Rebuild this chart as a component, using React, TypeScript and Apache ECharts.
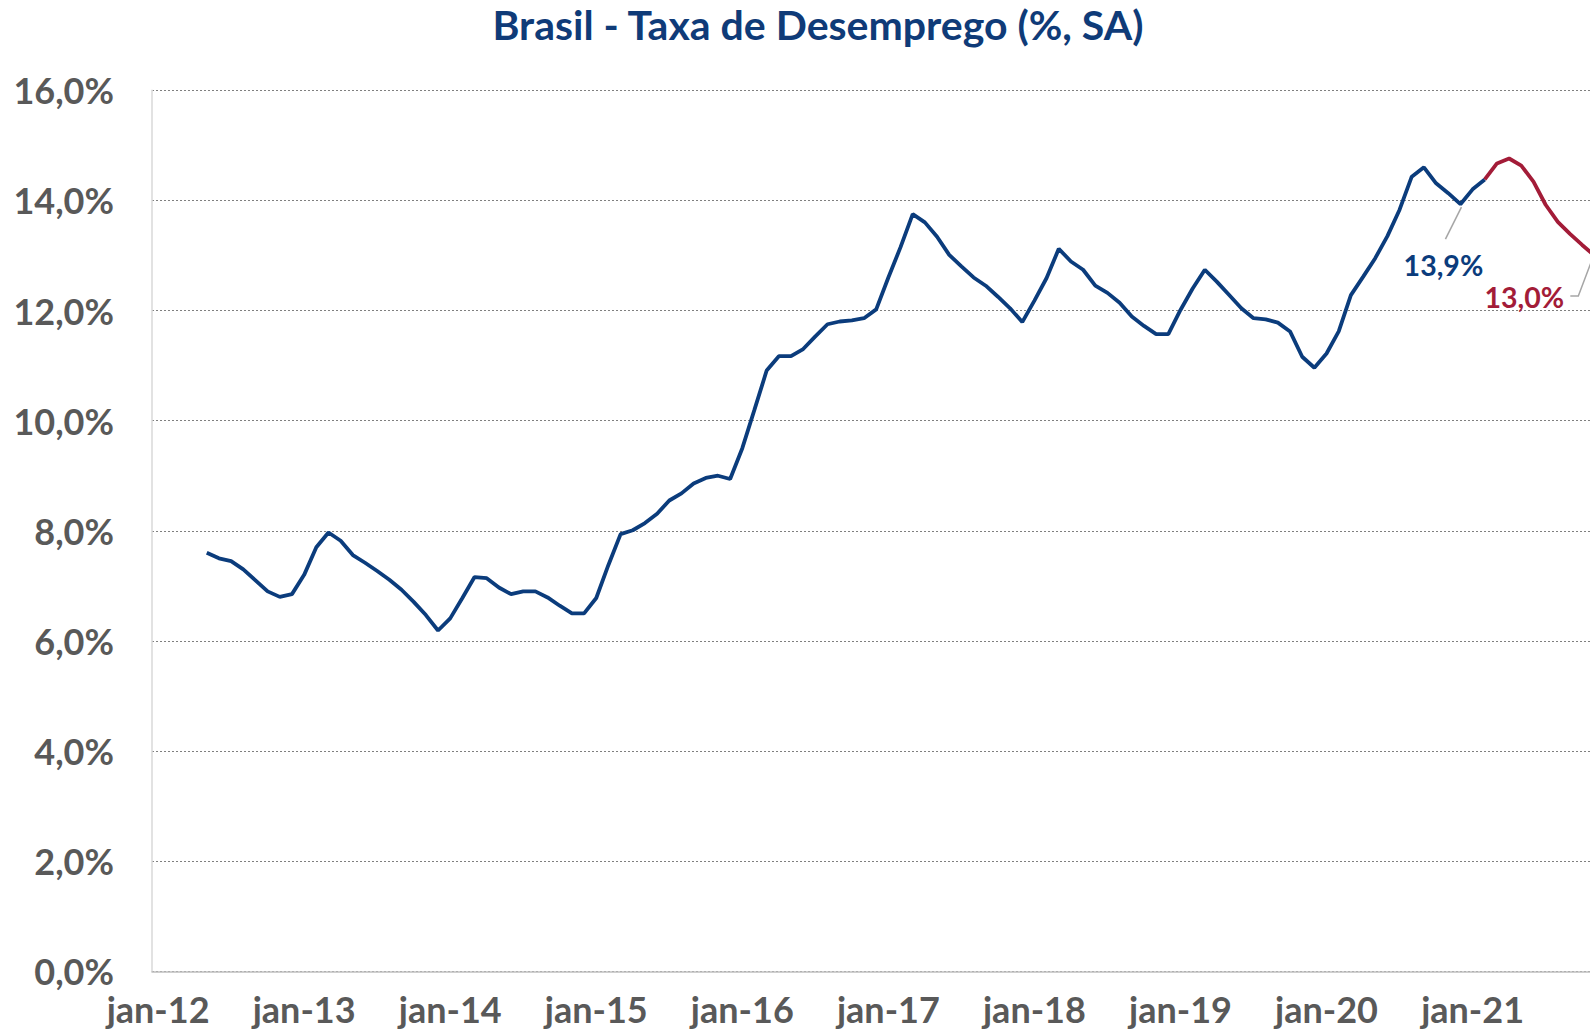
import React, { useEffect, useRef } from "react";
import * as echarts from "echarts";

const monthNames = ["jan", "fev", "mar", "abr", "mai", "jun", "jul", "ago", "set", "out", "nov", "dez"];
const firstYear = 2012;
const categoryCount = 119; // jan-12 .. nov-21

// Observed rate, May-12 .. Feb-21 (% SA)
const observedStart = 4;
const observedValues = [
  7.6, 7.5, 7.45, 7.3, 7.1, 6.9, 6.8, 6.85,
  7.2, 7.7, 7.97, 7.82, 7.56, 7.42, 7.27, 7.11, 6.93, 6.71, 6.47, 6.19,
  6.41, 6.78, 7.16, 7.14, 6.97, 6.85, 6.9, 6.9, 6.79, 6.64, 6.5, 6.5,
  6.78, 7.38, 7.94, 8.01, 8.14, 8.31, 8.55, 8.68, 8.86, 8.96, 9.0, 8.94,
  9.5, 10.2, 10.91, 11.17, 11.17, 11.3, 11.53, 11.75, 11.8, 11.82, 11.86, 12.02,
  12.6, 13.15, 13.75, 13.6, 13.34, 13.01, 12.8, 12.6, 12.45, 12.25, 12.04, 11.79,
  12.18, 12.59, 13.12, 12.89, 12.74, 12.45, 12.32, 12.14, 11.89, 11.72, 11.57, 11.57,
  12.01, 12.4, 12.74, 12.52, 12.28, 12.04, 11.86, 11.84, 11.78, 11.62, 11.16, 10.96,
  11.22, 11.62, 12.28, 12.61, 12.95, 13.35, 13.83, 14.43, 14.6, 14.31, 14.13, 13.93,
  14.2, 14.38,
];

// Projection, Feb-21 .. Nov-21
const projectionStart = 109;
const projectionValues = [14.38, 14.67, 14.76, 14.63, 14.34, 13.92, 13.61, 13.39, 13.19, 13.0];

const yTicks = { min: 0, max: 16, interval: 2 };

const annotations = [
  { series: 0, index: 107, text: "13,9%", color: "#0b3c7c" },
  { series: 1, index: 118, text: "13,0%", color: "#a31c38" },
];

const BLUE = "#0b3c7c";
const RED = "#a31c38";
const FONT = "Lato";
const CANVAS_W = 1610;

function buildCategories(): string[] {
  const out: string[] = [];
  for (let i = 0; i < categoryCount; i++) {
    const y = firstYear + Math.floor(i / 12);
    out.push(`${monthNames[i % 12]}-${String(y).slice(2)}`);
  }
  return out;
}

function buildSeries(start: number, values: number[]): (number | null)[] {
  const arr: (number | null)[] = new Array(categoryCount).fill(null);
  values.forEach((v, k) => {
    arr[start + k] = v;
  });
  return arr;
}

export default function App() {
  const ref = useRef<HTMLDivElement>(null);

  useEffect(() => {
    if (!ref.current) return;
    const chart = echarts.init(ref.current, undefined, { renderer: "svg" });
    const categories = buildCategories();
    const blue = buildSeries(observedStart, observedValues);
    const red = buildSeries(projectionStart, projectionValues);

    chart.setOption({
      animation: false,
      backgroundColor: "#ffffff",
      title: {
        text: "Brasil - Taxa de Desemprego (%, SA)",
        left: 813,
        top: -1,
        textAlign: "center",
        textStyle: { fontFamily: FONT, fontWeight: "bold", fontSize: 41, color: "#0f3b78" },
      },
      grid: { left: 152, right: CANVAS_W - 1600.4, top: 90.2, bottom: 58.6, containLabel: false },
      xAxis: {
        type: "category",
        data: categories,
        boundaryGap: true,
        axisLine: { show: true, lineStyle: { color: "#bfbfbf", width: 1.5 } },
        axisTick: { show: false },
        axisLabel: {
          interval: (i: number) => i % 12 === 0,
          margin: 20,
          fontFamily: FONT,
          fontWeight: "bold",
          fontSize: 36,
          color: "#595959",
        },
        splitLine: { show: false },
      },
      yAxis: {
        type: "value",
        min: yTicks.min,
        max: yTicks.max,
        interval: yTicks.interval,
        axisLine: { show: true, lineStyle: { color: "#d9d9d9", width: 1.5 } },
        axisTick: { show: false },
        axisLabel: {
          margin: 38,
          fontFamily: FONT,
          fontWeight: "bold",
          fontSize: 36,
          color: "#595959",
          formatter: (v: number) => v.toFixed(1).replace(".", ",") + "%",
        },
        splitLine: { show: true, lineStyle: { color: "#7f7f7f", width: 1, type: [2, 2] } },
      },
      series: [
        {
          type: "line",
          data: blue,
          showSymbol: false,
          symbol: "none",
          connectNulls: false,
          lineStyle: { color: BLUE, width: 3.8 },
          z: 3,
        },
        {
          type: "line",
          data: red,
          showSymbol: false,
          symbol: "none",
          connectNulls: false,
          lineStyle: { color: RED, width: 3.8 },
          z: 4,
        },
      ],
    });

    const graphics: any[] = [];
    annotations.forEach((a, k) => {
      const val = a.series === 0 ? blue[a.index] : red[a.index];
      const p = chart.convertToPixel({ seriesIndex: a.series }, [a.index, val as number]) as number[];
      if (!p) return;
      const [px, py] = p;
      if (k === 0) {
        graphics.push({
          type: "line",
          shape: { x1: px + 1, y1: py + 3, x2: px - 15, y2: py + 35 },
          style: { stroke: "#a6a6a6", lineWidth: 1.5 },
        });
        graphics.push({
          type: "text",
          x: px - 17,
          y: py + 61,
          style: {
            text: a.text, fill: a.color, font: `bold 28.5px ${FONT}`,
            textAlign: "center", textVerticalAlign: "middle",
          },
        });
      } else {
        graphics.push({
          type: "polyline",
          shape: { points: [[px - 24, py + 40.5], [px - 16, py + 40.5], [px - 2, py + 3.5]] },
          style: { stroke: "#a6a6a6", lineWidth: 1.5, fill: "none" },
        });
        graphics.push({
          type: "text",
          x: px - 70,
          y: py + 41.5,
          style: {
            text: a.text, fill: a.color, font: `bold 28.5px ${FONT}`,
            textAlign: "center", textVerticalAlign: "middle",
          },
        });
      }
    });
    chart.setOption({ graphic: graphics });

    return () => chart.dispose();
  }, []);

  return (
    <div
      ref={ref}
      style={{ position: "fixed", left: 0, top: 0, width: CANVAS_W, height: 1030, background: "#fff" }}
    />
  );
}
